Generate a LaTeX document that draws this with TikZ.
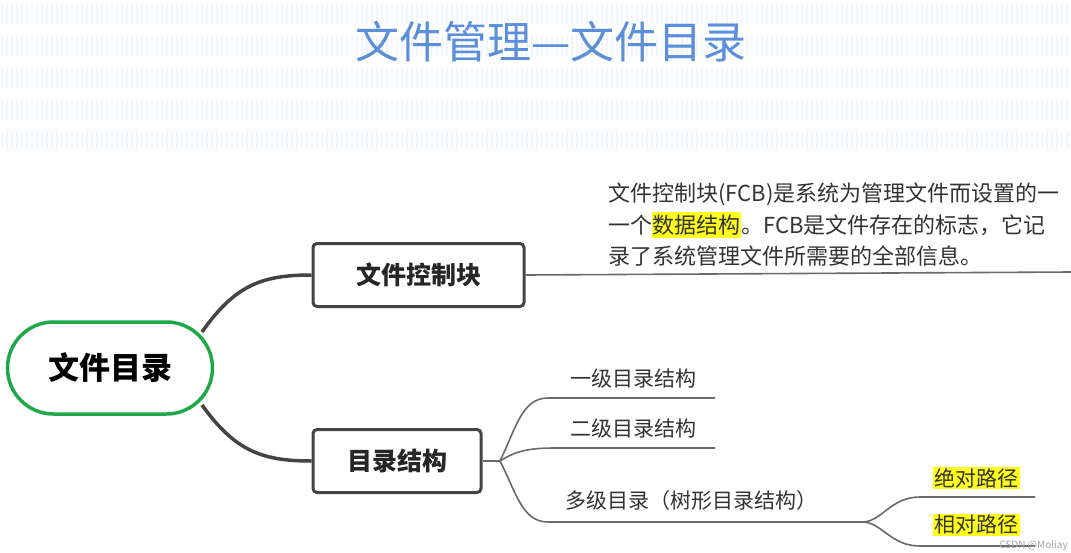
\documentclass[tikz,border=0pt]{standalone}
\usepackage{fontspec}
\setmainfont{Noto Sans CJK SC}
\usepackage{xcolor}
\definecolor{titleblue}{HTML}{5B8FDB}
\definecolor{rootgreen}{HTML}{1FA84A}
\definecolor{boxgray}{HTML}{444444}
\definecolor{linegray}{HTML}{6A6A6A}
\definecolor{txt}{HTML}{333333}
\definecolor{hl}{HTML}{FFFF1A}
\definecolor{stripe}{HTML}{F1F5FC}
\tikzset{
  rootbox/.style={draw=rootgreen, line width=3.5pt, rounded corners=46pt, minimum width=205pt, minimum height=92pt, font=\fontsize{31}{36}\selectfont\bfseries, text=black},
  topicbox/.style={draw=boxgray, line width=3pt, rounded corners=4pt, minimum height=63pt, font=\fontsize{25}{30}\selectfont\bfseries, text=black!85},
  thick link/.style={draw=boxgray, line width=3.5pt},
  thin link/.style={draw=linegray, line width=1.6pt},
  leaf/.style={font=\fontsize{21}{25}\selectfont, text=txt, inner sep=1pt},
  body/.style={font=\fontsize{22}{26}\selectfont, text=txt, inner sep=0pt, anchor=west},
  hlbox/.style={fill=hl, inner sep=1.5pt}
}
\begin{document}
\begin{tikzpicture}[x=1pt,y=-1pt]
\useasboundingbox (0,0) rectangle (1071,552);
\fill[white] (0,0) rectangle (1071,552);
% faint striped background at the top
\foreach \r in {4,36,68,100,130}{
  \foreach \i in {0,...,214}{
    \draw[stripe, line width=1.2pt] ({5*\i+2},\r) -- ({5*\i+2},\r+20);
  }
}
% title
\node[font=\fontsize{44}{50}\selectfont, text=titleblue] (title) at (551,42) {文件管理—文件目录};

% nodes
\node[rootbox] (root) at (110,368) {文件目录};
\node[topicbox, minimum width=211pt] (fcb) at (418.5,275) {文件控制块};
\node[topicbox, minimum width=168pt] (dir) at (397,461) {目录结构};

% thick connectors
\coordinate (r1) at (202,332);
\draw[thick link] (r1) .. controls (235,285) and (262,275) .. (fcb.west);
\coordinate (r2) at (202,405);
\draw[thick link] (r2) .. controls (235,451) and (262,461) .. (dir.west);

% FCB description
\coordinate (fcbend) at (1071,272);
\draw[thin link] (fcb.east) -- (fcbend);
\node[body] (d1) at (608,194) {文件控制块(FCB)是系统为管理文件而设置的一};
\node[body] (d2) at (608,225) {一个\colorbox{hl}{\kern-2.5pt 数据结构\kern-2.5pt}。FCB是文件存在的标志，它记};
\node[body] (d3) at (608,256) {录了系统管理文件所需要的全部信息。};

% directory structure branches
\coordinate (b0) at (500,461);
\coordinate (e1) at (715,398);
\coordinate (e2) at (715,448);
\coordinate (e3) at (862,522);
\draw[thin link] (dir.east) -- (b0);
\draw[thin link] (b0) .. controls (516,428) and (522,398) .. (548,398) -- (e1);
\draw[thin link] (b0) .. controls (516,451) and (528,448) .. (556,448) -- (e2);
\draw[thin link] (b0) .. controls (516,492) and (522,522) .. (548,522) -- (e3);
\node[leaf] (l1) at (633,379) {一级目录结构};
\node[leaf] (l2) at (633,429) {二级目录结构};
\node[leaf] (l3) at (691,501) {多级目录（树形目录结构）};

% sub branches
\coordinate (s1) at (1035,497);
\coordinate (s2) at (1035,546);
\draw[thin link] (e3) .. controls (882,522) and (890,497) .. (920,497) -- (s1);
\draw[thin link] (e3) .. controls (882,522) and (890,546) .. (920,546) -- (s2);
\node[leaf, hlbox] (p1) at (976,478) {绝对路径};
\node[leaf, hlbox] (p2) at (976,525) {相对路径};

% watermark
\node[font=\fontsize{10}{12}\selectfont, text=black!35, anchor=east, inner sep=0pt] (wm) at (1068,546) {CSDN @Moliay};
\end{tikzpicture}
\end{document}
